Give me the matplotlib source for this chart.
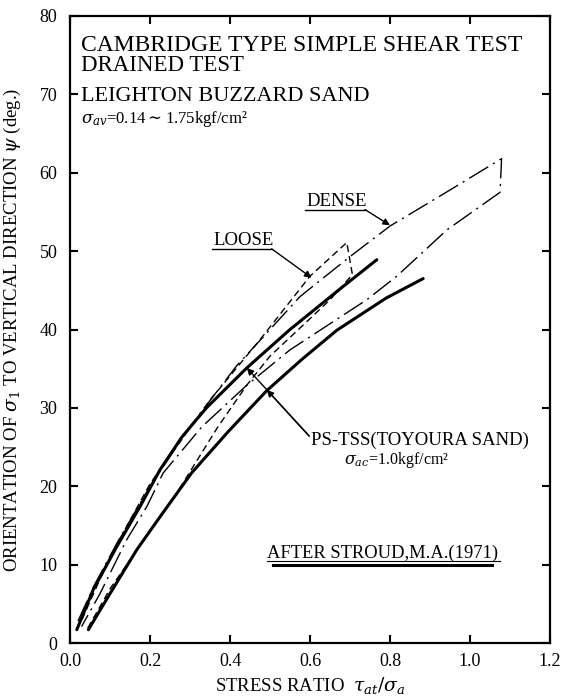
import matplotlib.pyplot as plt

plt.rcParams['font.family'] = ['Liberation Serif', 'DejaVu Serif']
plt.rcParams['mathtext.fontset'] = 'dejavuserif'

# PS-TSS (Toyoura sand), upper and lower thick curves
ps_upper_x = [0.017, 0.058, 0.117, 0.175, 0.225, 0.28, 0.341, 0.442, 0.55, 0.683, 0.767]
ps_upper_y = [1.7, 6.8, 12.3, 17.4, 22.1, 26.3, 30.0, 35.1, 40.0, 45.5, 48.9]
ps_lower_x = [0.046, 0.10, 0.167, 0.225, 0.304, 0.396, 0.492, 0.58, 0.667, 0.79, 0.883]
ps_lower_y = [1.7, 6.3, 11.9, 16.1, 21.7, 27.0, 32.2, 36.2, 39.9, 44.0, 46.5]

# Stroud (1971), dense: upper branch, closing line, lower branch
dense_x = [0.02, 0.06, 0.12, 0.2, 0.3, 0.417, 0.475, 0.575, 0.70, 0.80, 0.95, 1.079,
           1.075, 1.05, 0.942, 0.817, 0.742, 0.667, 0.55, 0.44, 0.33, 0.233, 0.192, 0.142, 0.075, 0.029]
dense_y = [2.8, 7.3, 13.0, 20.0, 27.6, 35.4, 38.6, 44.2, 49.3, 53.2, 57.8, 61.8,
           57.5, 56.6, 52.7, 46.8, 43.8, 41.3, 37.4, 32.8, 27.6, 21.7, 17.4, 13.2, 6.3, 2.1]

# Stroud (1971), loose
loose_x = [0.03, 0.1, 0.2, 0.35, 0.475, 0.60, 0.692,
           0.706, 0.65, 0.592, 0.5, 0.442, 0.37, 0.292, 0.258, 0.18, 0.10, 0.04]
loose_y = [3.0, 11.0, 20.3, 31.0, 38.7, 46.8, 51.1,
           47.0, 43.8, 41.0, 36.6, 32.9, 27.6, 21.2, 18.4, 12.8, 6.9, 1.5]

xticks = [0.0, 0.2, 0.4, 0.6, 0.8, 1.0, 1.2]
yticks = [0, 10, 20, 30, 40, 50, 60, 70, 80]

fig = plt.figure(figsize=(5.74, 6.99), dpi=100)
ax = fig.add_axes([70/574, 1-643/699, 480/574, 627/699])

ax.plot(ps_upper_x, ps_upper_y, color='k', lw=2.2, solid_capstyle='round')
ax.plot(ps_lower_x, ps_lower_y, color='k', lw=2.2, solid_capstyle='round')
ax.plot(dense_x, dense_y, color='k', lw=1.0, linestyle=(0, (16, 4, 1.5, 4)))
ax.plot(loose_x, loose_y, color='k', lw=1.0, linestyle=(0, (5, 3)))

ax.set_xlim(0, 1.2)
ax.set_ylim(0, 80)
ax.set_xticks(xticks)
ax.set_xticklabels(['%.1f' % v for v in xticks])
ax.set_yticks(yticks)
ax.tick_params(direction='in', length=6, width=1.5, top=True, right=True,
               labelsize=13)
ax.tick_params(axis='x', pad=7)
ax.tick_params(axis='y', pad=9)
for s in ax.spines.values():
    s.set_linewidth(1.6)

ax.set_xlabel(r'STRESS RATIO  $\tau_{at}/\sigma_a$', fontsize=13.5, labelpad=4)
ax.set_ylabel(r'ORIENTATION OF $\sigma_1$ TO VERTICAL DIRECTION $\psi$ (deg.)',
              fontsize=13.5, labelpad=12)

# header
ax.text(0.028, 75.5, 'CAMBRIDGE TYPE SIMPLE SHEAR TEST', fontsize=17, va='baseline')
ax.text(0.028, 72.96, 'DRAINED TEST', fontsize=16.5, va='baseline')
ax.text(0.028, 69.1, 'LEIGHTON BUZZARD SAND', fontsize=16, va='baseline')
ax.text(0.028, 66.3, r'$\sigma_{av}$=0.14$\sim$1.75kgf/cm²', fontsize=12, va='baseline')

arw = dict(arrowstyle='-|>', lw=1.0, color='k', mutation_scale=10, shrinkA=0, shrinkB=0)

# DENSE label
ax.text(0.592, 55.8, 'DENSE', fontsize=13.5, va='baseline')
ax.plot([0.588, 0.7375], [55.3, 55.3], color='k', lw=1.0)
ax.annotate('', xy=(0.80, 53.3), xytext=(0.7375, 55.3), arrowprops=arw)

# LOOSE label
ax.text(0.358, 50.8, 'LOOSE', fontsize=13.5, va='baseline')
ax.plot([0.355, 0.504], [50.3, 50.3], color='k', lw=1.0)
ax.annotate('', xy=(0.604, 46.6), xytext=(0.504, 50.3), arrowprops=arw)

# PS-TSS label
ax.text(0.603, 25.3, 'PS-TSS(TOYOURA SAND)', fontsize=13.5, va='baseline')
ax.text(0.686, 22.9, r'$\sigma_{ac}$=1.0kgf/cm²', fontsize=11.5, va='baseline')
ax.annotate('', xy=(0.442, 35.1), xytext=(0.598, 26.4), arrowprops=arw)
ax.annotate('', xy=(0.492, 32.3), xytext=(0.598, 26.4), arrowprops=arw)

# after Stroud
ax.text(0.492, 10.8, 'AFTER STROUD,M.A.(1971)', fontsize=13.3, va='baseline')
ax.plot([0.492, 1.075], [10.45, 10.45], color='k', lw=0.8)
ax.plot([0.507, 1.054], [9.95, 9.95], color='k', lw=2.2)

fig.savefig('out.png', dpi=100)
